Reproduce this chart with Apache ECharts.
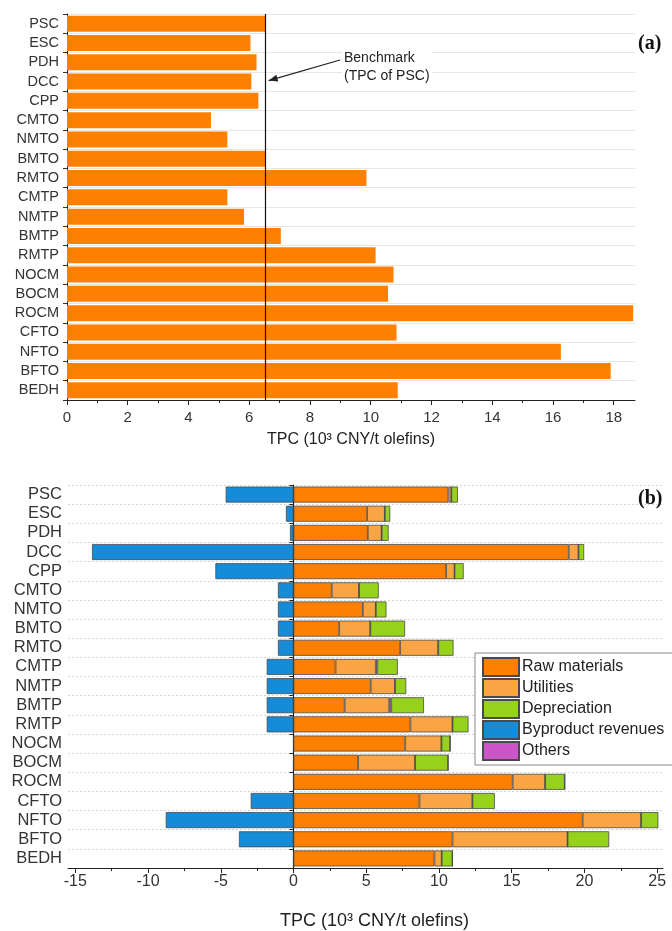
<!DOCTYPE html>
<html>
<head>
<meta charset="utf-8">
<script src="https://cdn.jsdelivr.net/npm/echarts@6/dist/echarts.min.js"></script>
<style>
html,body{margin:0;padding:0;background:#fff;}
#main{width:672px;height:931px;}
</style>
</head>
<body>
<div id="main"></div>
<script>
// ---------- data ----------
const categories = ['PSC','ESC','PDH','DCC','CPP','CMTO','NMTO','BMTO','RMTO','CMTP','NMTP','BMTP','RMTP','NOCM','BOCM','ROCM','CFTO','NFTO','BFTO','BEDH'];
// (a) total production cost, 10^3 CNY/t olefins
const tpc = [6.54, 6.04, 6.24, 6.07, 6.30, 4.74, 5.28, 6.54, 9.86, 5.28, 5.83, 7.04, 10.16, 10.75, 10.57, 18.64, 10.85, 16.26, 17.90, 10.89];
// (b) cost breakdown
const rawMaterials = [10.65, 5.06, 5.11, 18.92, 10.49, 2.63, 4.77, 3.14, 7.33, 2.89, 5.31, 3.52, 8.04, 7.68, 4.44, 15.07, 8.66, 19.88, 10.93, 9.69];
const utilities    = [0.20, 1.22, 0.95, 0.67, 0.58, 1.88, 0.89, 2.14, 2.62, 2.77, 1.67, 3.06, 2.89, 2.49, 3.92, 2.23, 3.64, 4.02, 7.91, 0.50];
const others       = [0, 0, 0, 0, 0, 0, 0, 0, 0, 0.10, 0, 0.14, 0, 0, 0, 0, 0, 0, 0, 0];
const depreciation = [0.45, 0.37, 0.48, 0.39, 0.63, 1.35, 0.73, 2.39, 1.05, 1.41, 0.77, 2.25, 1.10, 0.60, 2.27, 1.35, 1.54, 1.18, 2.86, 0.74];
const byproduct    = [-4.66, -0.52, -0.24, -13.85, -5.37, -1.07, -1.07, -1.07, -1.07, -1.84, -1.84, -1.84, -1.84, 0, 0, 0, -2.94, -8.78, -3.75, 0];
// benchmark = TPC of PSC
const benchmark = tpc[0];
// tick labels
const topTicks = [0, 2, 4, 6, 8, 10, 12, 14, 16, 18];
const topMinorTicks = [1, 3, 5, 7, 9, 11, 13, 15, 17];
const bottomTicks = [-15, -10, -5, 0, 5, 10, 15, 20, 25];
const bottomMinorTicks = [-12.5, -7.5, -2.5, 2.5, 7.5, 12.5, 17.5, 22.5];
const legendNames = ['Raw materials', 'Utilities', 'Depreciation', 'Byproduct revenues', 'Others'];
const axisTitle = 'TPC (10\u00B3 CNY/t olefins)';

// ---------- chart ----------
const FONT = 'Liberation Sans';
const chart = echarts.init(document.getElementById('main'), null, {renderer: 'canvas'});
const border = {borderColor: '#4a4a4a', borderWidth: 0.8};

const option = {
  animation: false,
  backgroundColor: '#fff',
  textStyle: {fontFamily: FONT},
  grid: [
    {left: 67, top: 14, width: 568, height: 386, containLabel: false, outerBoundsMode: 'none'},
    {left: 68, top: 485, width: 595, height: 383, containLabel: false, outerBoundsMode: 'none'}
  ],
  legend: {
    data: legendNames,
    orient: 'vertical',
    left: 475, top: 653,
    padding: [4, 10, 4, 7],
    itemWidth: 36, itemHeight: 18, itemGap: 1,
    backgroundColor: '#fff',
    borderColor: '#888', borderWidth: 1,
    icon: 'rect',
    textStyle: {fontSize: 16, lineHeight: 18, color: '#222', fontFamily: FONT, padding: [0, 0, 0, -2]}
  },
  xAxis: [
    {
      gridIndex: 0, type: 'value', min: 0, max: 18.7, position: 'bottom',
      name: axisTitle, nameLocation: 'middle', nameGap: 32,
      nameTextStyle: {fontSize: 16, color: '#222', fontFamily: FONT},
      axisLine: {show: true, lineStyle: {color: '#222', width: 1}},
      axisTick: {show: true, customValues: topTicks, length: 5, lineStyle: {color: '#222'}},
      axisLabel: {customValues: topTicks, fontSize: 15, color: '#333', margin: 10, fontFamily: FONT},
      splitLine: {show: false}
    },
    {
      gridIndex: 0, type: 'value', min: 0, max: 18.7, position: 'bottom',
      axisLine: {show: false},
      axisTick: {show: true, customValues: topMinorTicks, length: 3, lineStyle: {color: '#222'}},
      axisLabel: {show: false},
      splitLine: {show: false}
    },
    {
      gridIndex: 1, type: 'value', min: -15.5, max: 25.4, position: 'bottom',
      name: axisTitle, nameLocation: 'middle', nameGap: 44,
      nameTextStyle: {fontSize: 18, color: '#222', fontFamily: FONT, padding: [0, 0, 0, 18]},
      axisLine: {show: true, onZero: false, lineStyle: {color: '#222', width: 1}},
      axisTick: {show: true, customValues: bottomTicks, length: 5, lineStyle: {color: '#222'}},
      axisLabel: {customValues: bottomTicks, fontSize: 16, color: '#333', margin: 6, fontFamily: FONT},
      splitLine: {show: false}
    },
    {
      gridIndex: 1, type: 'value', min: -15.5, max: 25.4, position: 'bottom',
      axisLine: {show: false, onZero: false},
      axisTick: {show: true, customValues: bottomMinorTicks, length: 3, lineStyle: {color: '#222'}},
      axisLabel: {show: false},
      splitLine: {show: false}
    }
  ],
  yAxis: [
    {
      gridIndex: 0, type: 'category', data: categories, inverse: true,
      axisLine: {show: true, onZero: false, lineStyle: {color: '#222'}},
      axisTick: {show: true, interval: 0, length: 4, lineStyle: {color: '#333'}},
      axisLabel: {interval: 0, fontSize: 14.5, color: '#333', margin: 8, fontFamily: FONT},
      splitLine: {show: true, interval: 0, lineStyle: {color: '#e6e6e6', width: 1}}
    },
    {
      gridIndex: 1, type: 'category', data: categories, inverse: true,
      axisLine: {show: false, onZero: false},
      axisTick: {show: false},
      axisLabel: {interval: 0, fontSize: 16.5, color: '#333', margin: 6, fontFamily: FONT},
      splitLine: {show: true, interval: 0, lineStyle: {color: '#d4d4d4', width: 1, type: [2, 2]}}
    },
    {
      gridIndex: 1, type: 'category', data: categories, inverse: true, position: 'right',
      axisLine: {show: true, onZero: true, onZeroAxisIndex: 2, lineStyle: {color: '#222', width: 1.2}},
      axisTick: {show: true, interval: 0, inside: true, length: 4, lineStyle: {color: '#222'}},
      axisLabel: {show: false},
      splitLine: {show: false}
    }
  ],
  series: [
    {
      name: 'TPC', type: 'bar', xAxisIndex: 0, yAxisIndex: 0,
      data: tpc, barWidth: 16,
      itemStyle: {color: '#ff8000'},
      markLine: {
        silent: true, symbol: ['none', 'none'],
        label: {show: false},
        lineStyle: {color: '#111', width: 1.2, type: 'solid'},
        data: [{xAxis: benchmark}]
      }
    },
    {
      name: 'Raw materials', type: 'bar', stack: 'cost', xAxisIndex: 2, yAxisIndex: 1,
      data: rawMaterials, barWidth: 16,
      itemStyle: Object.assign({color: '#ff8000'}, border)
    },
    {
      name: 'Utilities', type: 'bar', stack: 'cost', xAxisIndex: 2, yAxisIndex: 1,
      data: utilities, barWidth: 16,
      itemStyle: Object.assign({color: '#f9a545'}, border)
    },
    {
      name: 'Others', type: 'bar', stack: 'cost', xAxisIndex: 2, yAxisIndex: 1,
      data: others, barWidth: 16,
      itemStyle: Object.assign({color: '#cc55c8'}, border)
    },
    {
      name: 'Depreciation', type: 'bar', stack: 'cost', xAxisIndex: 2, yAxisIndex: 1,
      data: depreciation, barWidth: 16,
      itemStyle: Object.assign({color: '#96d21c'}, border)
    },
    {
      name: 'Byproduct revenues', type: 'bar', stack: 'cost', xAxisIndex: 2, yAxisIndex: 1,
      data: byproduct, barWidth: 16,
      itemStyle: Object.assign({color: '#168cd8'}, border)
    }
  ]
};
chart.setOption(option);

// annotations (arrow pointing at benchmark line, panel labels)
const tip = chart.convertToPixel({xAxisIndex: 0, yAxisIndex: 0}, [benchmark, 'DCC']);
const head = [tip[0] + 3, tip[1] - 1];
const tail = [340, 60];
const ang = Math.atan2(tail[1] - head[1], tail[0] - head[0]);
const hl = 9, hw = 3.5;
const p1 = [head[0] + hl * Math.cos(ang) - hw * Math.sin(ang), head[1] + hl * Math.sin(ang) + hw * Math.cos(ang)];
const p2 = [head[0] + hl * Math.cos(ang) + hw * Math.sin(ang), head[1] + hl * Math.sin(ang) - hw * Math.cos(ang)];
chart.setOption({
  graphic: [
    {type: 'line', shape: {x1: tail[0], y1: tail[1], x2: head[0], y2: head[1]}, style: {stroke: '#222', lineWidth: 1.2}, z: 100},
    {type: 'polygon', shape: {points: [head, p1, p2]}, style: {fill: '#222'}, z: 100},
    {type: 'text', left: 342, top: 48, z: 100,
     style: {text: 'Benchmark\n(TPC of PSC)', font: '14px "Liberation Sans"', fill: '#222', lineHeight: 18, backgroundColor: '#fff', padding: [1, 2]}},
    {type: 'text', left: 638, top: 34, z: 100,
     style: {text: '(a)', font: 'bold 20px "Liberation Serif"', fill: '#111'}},
    {type: 'text', left: 638, top: 489, z: 100,
     style: {text: '(b)', font: 'bold 20px "Liberation Serif"', fill: '#111'}}
  ]
});
</script>
</body>
</html>
